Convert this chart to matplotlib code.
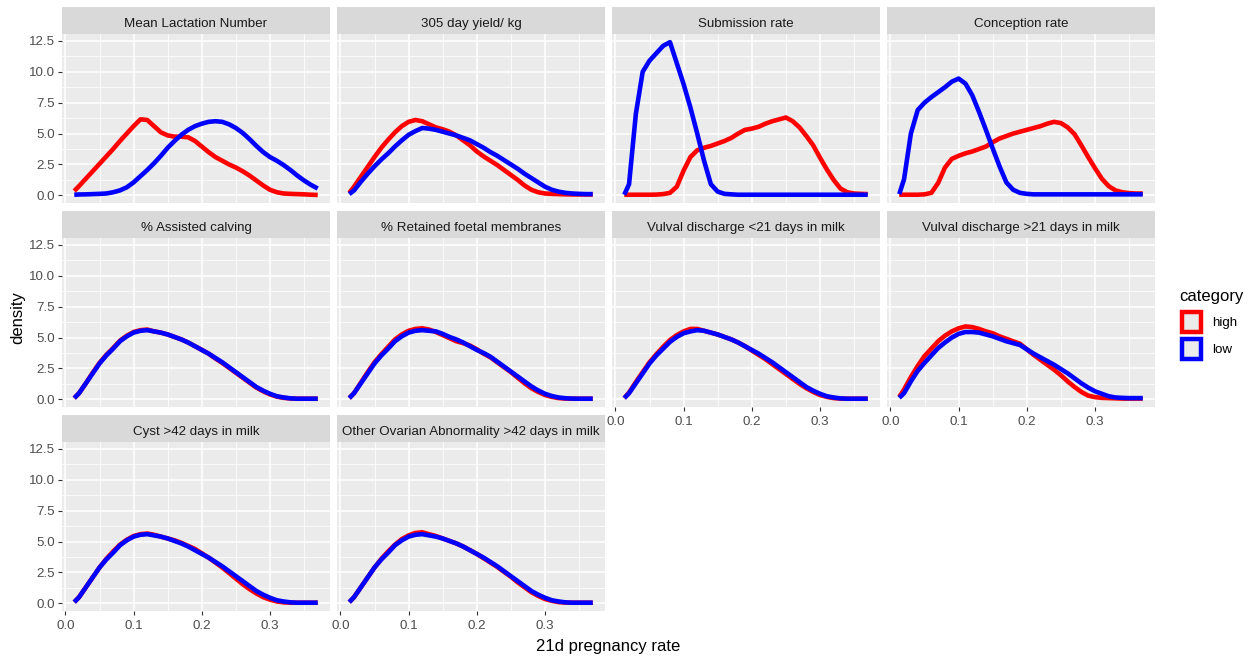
import matplotlib
matplotlib.use("Agg")
import matplotlib.pyplot as plt
from matplotlib.patches import Rectangle

plt.rcParams['font.family'] = ['Liberation Sans', 'DejaVu Sans']

# ---------------- data ----------------
x_grid = [0.013, 0.02, 0.03, 0.04, 0.05, 0.06, 0.07, 0.08, 0.09, 0.10,
          0.11, 0.12, 0.13, 0.14, 0.15, 0.16, 0.17, 0.18, 0.19, 0.20,
          0.21, 0.22, 0.23, 0.24, 0.25, 0.26, 0.27, 0.28, 0.29, 0.30,
          0.31, 0.32, 0.33, 0.34, 0.35, 0.36, 0.37]

panel_titles = ["Mean Lactation Number", "305 day yield/ kg", "Submission rate",
                "Conception rate", "% Assisted calving", "% Retained foetal membranes",
                "Vulval discharge <21 days in milk", "Vulval discharge >21 days in milk",
                "Cyst >42 days in milk", "Other Ovarian Abnormality >42 days in milk"]

categories = ["high", "low"]
category_colors = {"high": "#FF0000", "low": "#0000FF"}

lact_high = [0.35, 0.75, 1.35, 1.95, 2.55, 3.15, 3.75, 4.4, 5.0, 5.6,
             6.15, 6.1, 5.6, 5.1, 4.85, 4.75, 4.75, 4.7, 4.4, 3.95,
             3.5, 3.1, 2.8, 2.5, 2.25, 1.95, 1.6, 1.2, 0.8, 0.45,
             0.25, 0.15, 0.12, 0.1, 0.08, 0.05, 0.03]
lact_low = [0.05, 0.07, 0.08, 0.1, 0.12, 0.15, 0.25, 0.4, 0.65, 1.05,
            1.55, 2.05, 2.6, 3.2, 3.85, 4.4, 4.9, 5.3, 5.6, 5.8,
            5.95, 6.0, 5.95, 5.75, 5.45, 5.05, 4.55, 4.0, 3.5, 3.1,
            2.8, 2.45, 2.05, 1.6, 1.2, 0.85, 0.55]

yield_high = [0.2, 0.7, 1.5, 2.3, 3.1, 3.85, 4.5, 5.1, 5.6, 5.95,
              6.1, 6.0, 5.75, 5.5, 5.35, 5.15, 4.85, 4.45, 4.05, 3.55,
              3.15, 2.8, 2.45, 2.05, 1.65, 1.25, 0.8, 0.45, 0.25, 0.15,
              0.12, 0.1, 0.08, 0.07, 0.07, 0.07, 0.07]
yield_low = [0.1, 0.4, 1.1, 1.75, 2.35, 2.9, 3.4, 3.95, 4.45, 4.9,
             5.2, 5.45, 5.4, 5.3, 5.15, 5.0, 4.85, 4.65, 4.45, 4.15,
             3.85, 3.5, 3.2, 2.85, 2.5, 2.15, 1.75, 1.4, 1.05, 0.7,
             0.45, 0.3, 0.2, 0.15, 0.12, 0.1, 0.1]

subm_high = [0.05, 0.05, 0.05, 0.05, 0.05, 0.06, 0.1, 0.2, 0.7, 2.0,
             3.1, 3.65, 3.85, 4.0, 4.2, 4.4, 4.65, 5.0, 5.3, 5.4,
             5.55, 5.8, 6.0, 6.15, 6.3, 6.0, 5.5, 4.8, 4.05, 3.05,
             2.1, 1.25, 0.55, 0.25, 0.15, 0.12, 0.1]
subm_low = [0.05, 0.9, 6.6, 10.0, 10.9, 11.5, 12.1, 12.4, 10.7, 9.0,
            7.1, 5.0, 2.8, 0.9, 0.3, 0.12, 0.08, 0.05, 0.05, 0.05,
            0.05, 0.05, 0.05, 0.05, 0.05, 0.05, 0.05, 0.05, 0.05, 0.05,
            0.05, 0.05, 0.05, 0.05, 0.05, 0.05, 0.05]

conc_high = [0.05, 0.05, 0.05, 0.05, 0.08, 0.2, 1.0, 2.25, 2.95, 3.2,
             3.4, 3.55, 3.75, 3.95, 4.3, 4.6, 4.8, 5.0, 5.15, 5.3,
             5.45, 5.6, 5.8, 5.95, 5.85, 5.5, 4.95, 4.05, 3.1, 2.2,
             1.35, 0.75, 0.4, 0.25, 0.18, 0.15, 0.15]
conc_low = [0.1, 1.3, 5.0, 6.9, 7.5, 7.95, 8.35, 8.75, 9.2, 9.45,
            9.05, 8.1, 6.75, 5.3, 3.8, 2.35, 1.05, 0.45, 0.2, 0.12,
            0.08, 0.08, 0.08, 0.08, 0.08, 0.08, 0.08, 0.08, 0.08, 0.08,
            0.08, 0.08, 0.08, 0.08, 0.08, 0.08, 0.08]

assist_high = [0.1, 0.5, 1.3, 2.15, 2.95, 3.6, 4.15, 4.75, 5.15, 5.45,
               5.6, 5.65, 5.5, 5.4, 5.25, 5.05, 4.85, 4.6, 4.3, 4.0,
               3.7, 3.3, 2.95, 2.55, 2.15, 1.75, 1.35, 0.95, 0.65, 0.4,
               0.22, 0.12, 0.07, 0.05, 0.05, 0.05, 0.05]
assist_low = [0.1, 0.5, 1.3, 2.1, 2.9, 3.55, 4.1, 4.7, 5.1, 5.4,
              5.55, 5.6, 5.5, 5.4, 5.25, 5.05, 4.85, 4.6, 4.3, 4.0,
              3.7, 3.35, 3.0, 2.6, 2.2, 1.8, 1.4, 1.0, 0.7, 0.45,
              0.25, 0.15, 0.08, 0.05, 0.05, 0.05, 0.05]

rfm_high = [0.1, 0.5, 1.35, 2.2, 3.0, 3.65, 4.25, 4.85, 5.25, 5.55,
            5.7, 5.75, 5.65, 5.45, 5.2, 4.95, 4.7, 4.55, 4.35, 4.05,
            3.7, 3.4, 3.0, 2.6, 2.2, 1.75, 1.3, 0.9, 0.6, 0.35,
            0.2, 0.1, 0.06, 0.05, 0.05, 0.05, 0.05]
rfm_low = [0.1, 0.5, 1.3, 2.1, 2.9, 3.55, 4.1, 4.7, 5.1, 5.4,
           5.55, 5.6, 5.55, 5.5, 5.3, 5.05, 4.85, 4.6, 4.3, 4.0,
           3.75, 3.45, 3.05, 2.65, 2.25, 1.85, 1.45, 1.05, 0.72, 0.45,
           0.27, 0.15, 0.09, 0.06, 0.05, 0.05, 0.05]

vd21_high = [0.1, 0.55, 1.4, 2.2, 3.0, 3.65, 4.25, 4.8, 5.2, 5.5,
             5.7, 5.7, 5.55, 5.4, 5.25, 5.05, 4.85, 4.6, 4.3, 3.95,
             3.6, 3.25, 2.85, 2.45, 2.05, 1.65, 1.25, 0.9, 0.6, 0.35,
             0.2, 0.1, 0.06, 0.05, 0.05, 0.05, 0.05]
vd21_low = [0.1, 0.5, 1.3, 2.1, 2.9, 3.55, 4.1, 4.65, 5.05, 5.35,
            5.5, 5.6, 5.55, 5.4, 5.25, 5.05, 4.85, 4.6, 4.3, 4.0,
            3.7, 3.35, 3.0, 2.6, 2.2, 1.8, 1.4, 1.0, 0.7, 0.45,
            0.25, 0.15, 0.08, 0.05, 0.05, 0.05, 0.05]

vdgt21_high = [0.2, 0.8, 1.8, 2.7, 3.5, 4.1, 4.7, 5.15, 5.5, 5.75,
               5.9, 5.85, 5.7, 5.5, 5.35, 5.1, 4.9, 4.7, 4.5, 4.05,
               3.6, 3.2, 2.8, 2.4, 1.95, 1.45, 1.0, 0.6, 0.3, 0.18,
               0.12, 0.1, 0.08, 0.06, 0.06, 0.06, 0.06]
vdgt21_low = [0.12, 0.5, 1.45, 2.3, 2.95, 3.55, 4.15, 4.6, 5.0, 5.3,
              5.45, 5.45, 5.4, 5.25, 5.1, 4.9, 4.7, 4.55, 4.4, 4.05,
              3.7, 3.4, 3.1, 2.8, 2.45, 2.1, 1.7, 1.3, 0.95, 0.65,
              0.45, 0.25, 0.15, 0.12, 0.1, 0.1, 0.1]

cyst_high = [0.1, 0.5, 1.3, 2.1, 2.9, 3.6, 4.2, 4.75, 5.15, 5.45,
             5.6, 5.65, 5.55, 5.4, 5.25, 5.1, 4.9, 4.65, 4.4, 4.05,
             3.7, 3.3, 2.9, 2.45, 2.0, 1.55, 1.15, 0.8, 0.5, 0.3,
             0.15, 0.08, 0.05, 0.05, 0.05, 0.05, 0.05]
cyst_low = [0.1, 0.5, 1.3, 2.1, 2.9, 3.55, 4.1, 4.7, 5.1, 5.4,
            5.55, 5.6, 5.5, 5.4, 5.25, 5.05, 4.85, 4.6, 4.3, 4.0,
            3.7, 3.35, 3.0, 2.6, 2.2, 1.8, 1.4, 1.0, 0.7, 0.45,
            0.25, 0.15, 0.08, 0.05, 0.05, 0.05, 0.05]

ovar_high = [0.1, 0.5, 1.3, 2.1, 2.9, 3.6, 4.2, 4.75, 5.2, 5.5,
             5.7, 5.75, 5.6, 5.45, 5.25, 5.05, 4.85, 4.6, 4.3, 4.0,
             3.65, 3.3, 2.95, 2.55, 2.15, 1.7, 1.3, 0.9, 0.6, 0.35,
             0.2, 0.1, 0.06, 0.05, 0.05, 0.05, 0.05]
ovar_low = [0.1, 0.5, 1.3, 2.1, 2.9, 3.55, 4.1, 4.7, 5.1, 5.4,
            5.55, 5.6, 5.5, 5.4, 5.25, 5.05, 4.85, 4.6, 4.3, 4.0,
            3.7, 3.35, 3.0, 2.6, 2.2, 1.8, 1.4, 1.0, 0.7, 0.45,
            0.25, 0.15, 0.08, 0.05, 0.05, 0.05, 0.05]

panel_high = [lact_high, yield_high, subm_high, conc_high, assist_high,
              rfm_high, vd21_high, vdgt21_high, cyst_high, ovar_high]
panel_low = [lact_low, yield_low, subm_low, conc_low, assist_low,
             rfm_low, vd21_low, vdgt21_low, cyst_low, ovar_low]

x_ticks = [0.0, 0.1, 0.2, 0.3]
x_ticklabels = ["0.0", "0.1", "0.2", "0.3"]
y_ticks = [0.0, 2.5, 5.0, 7.5, 10.0, 12.5]
y_ticklabels = ["0.0", "2.5", "5.0", "7.5", "10.0", "12.5"]

# ---------------- layout ----------------
W, H = 1251, 656
fig = plt.figure(figsize=(W / 100, H / 100), dpi=100)
fig.patch.set_facecolor("white")

col_left = [62, 337, 612, 887]
row_strip_top = [7, 211, 415]
strip_h = 27
panel_w = 268
panel_h = 169

TICK_COLOR = "#333333"
LABEL_COLOR = "#4D4D4D"
FS_SMALL = 9.6
FS_TITLE = 12


def fig_rect(left, top, w, h):
    return [left / W, 1 - (top + h) / H, w / W, h / H]


for i, title in enumerate(panel_titles):
    r, c = divmod(i, 4)
    left = col_left[c]
    stop = row_strip_top[r]
    # strip
    sax = fig.add_axes(fig_rect(left, stop, panel_w, strip_h))
    sax.set_facecolor("#D9D9D9")
    sax.set_xticks([])
    sax.set_yticks([])
    for s in sax.spines.values():
        s.set_visible(False)
    sax.text(0.5, 7.0 / strip_h, title, ha="center", va="baseline", fontsize=FS_SMALL,
             color="#1A1A1A", transform=sax.transAxes)

    ax = fig.add_axes(fig_rect(left, stop + strip_h, panel_w, panel_h))
    ax.set_facecolor("#EBEBEB")
    for s in ax.spines.values():
        s.set_visible(False)
    ax.set_xlim(-0.005, 0.388)
    ax.set_ylim(-0.62, 13.06)
    ax.set_xticks(x_ticks)
    ax.set_xticks([0.05, 0.15, 0.25, 0.35], minor=True)
    ax.set_yticks(y_ticks)
    ax.set_yticks([1.25, 3.75, 6.25, 8.75, 11.25], minor=True)
    ax.grid(which="major", color="white", lw=1.1)
    ax.grid(which="minor", color="white", lw=0.55)
    ax.set_axisbelow(True)
    ax.tick_params(which="minor", length=0)

    show_x = (r == 2) or (r == 1 and c >= 2)
    show_y = (c == 0)
    ax.tick_params(axis="x", which="major", direction="out", length=3.0 if show_x else 0,
                   width=0.8, color=TICK_COLOR, labelcolor=LABEL_COLOR,
                   labelsize=FS_SMALL, pad=3.5, labelbottom=show_x)
    ax.tick_params(axis="y", which="major", direction="out", length=3.0 if show_y else 0,
                   width=0.8, color=TICK_COLOR, labelcolor=LABEL_COLOR,
                   labelsize=FS_SMALL, pad=2, labelleft=show_y)
    if show_x:
        ax.set_xticklabels(x_ticklabels)
    if show_y:
        ax.set_yticklabels(y_ticklabels)

    ax.plot(x_grid, panel_high[i], color=category_colors["high"], lw=3.3,
            solid_joinstyle="round", solid_capstyle="butt")
    ax.plot(x_grid, panel_low[i], color=category_colors["low"], lw=3.3,
            solid_joinstyle="round", solid_capstyle="butt")

# axis titles
fig.text(608 / W, 1 - 647 / H, "21d pregnancy rate", ha="center", va="center",
         fontsize=FS_TITLE, color="black")
fig.text(18 / W, 1 - 318 / H, "density", ha="center", va="center", rotation=90,
         fontsize=FS_TITLE, color="black")

# legend
fig.text(1179 / W, 1 - 296 / H, "category", ha="left", va="center",
         fontsize=FS_TITLE, color="black")
key_tops = [312, 339]
for cat, kt in zip(categories, key_tops):
    rect = Rectangle((1182 / W, 1 - (kt + 20) / H), 19 / W, 20 / H,
                     transform=fig.transFigure, facecolor="#EBEBEB",
                     edgecolor=category_colors[cat], lw=3.2)
    fig.patches.append(rect)
    fig.text(1212 / W, 1 - (kt + 11) / H, cat, ha="left", va="center",
             fontsize=FS_SMALL, color="black")

fig.savefig("out.png", dpi=100, facecolor="white")
